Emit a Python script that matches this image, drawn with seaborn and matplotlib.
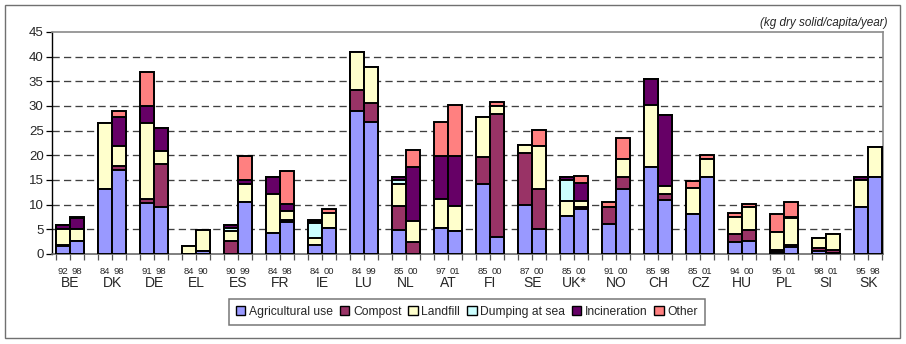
import numpy as np
import pandas as pd
import matplotlib
matplotlib.use("Agg")
import matplotlib.pyplot as plt
from matplotlib.patches import Patch, Rectangle
import seaborn as sns

sns.set_style("white")
plt.rcParams['font.family'] = ['Liberation Sans', 'DejaVu Sans']

# ---- data -------------------------------------------------------------
countries = ["BE", "DK", "DE", "EL", "ES", "FR", "IE", "LU", "NL", "AT",
             "FI", "SE", "UK*", "NO", "CH", "CZ", "HU", "PL", "SI", "SK"]
years = [("92", "98"), ("84", "98"), ("91", "98"), ("84", "90"), ("90", "99"),
         ("84", "98"), ("84", "00"), ("84", "99"), ("85", "00"), ("97", "01"),
         ("85", "00"), ("87", "00"), ("85", "00"), ("91", "00"), ("85", "98"),
         ("85", "01"), ("94", "00"), ("95", "01"), ("98", "01"), ("95", "98")]

series = ["Agricultural use", "Compost", "Landfill", "Dumping at sea",
          "Incineration", "Other"]
colors = ["#9999FF", "#993366", "#FFFFCC", "#CCFFFF", "#660066", "#FF8080"]

# values per bar (two bars per country, in the order above)
agricultural = [1.6, 2.6, 13.1, 17.0, 10.4, 9.5, 0.0, 0.7, 0.0, 10.5,
                4.3, 6.4, 1.8, 5.3, 28.9, 26.7, 4.9, 0.0, 5.3, 4.7,
                14.2, 3.5, 9.9, 5.1, 7.8, 9.2, 6.0, 13.1, 17.7, 11.0,
                8.1, 15.6, 2.4, 2.7, 0.5, 1.4, 0.7, 0.3, 9.6, 15.6]
compost = [0.3, 0.0, 0.0, 0.9, 0.8, 8.8, 0.0, 0.0, 2.7, 0.0,
           0.0, 0.5, 0.0, 0.0, 4.4, 4.0, 4.9, 2.4, 0.0, 0.0,
           5.4, 24.8, 10.5, 8.1, 0.0, 0.4, 3.5, 2.5, 0.0, 1.1,
           0.0, 0.0, 1.6, 2.2, 0.3, 0.4, 0.6, 0.5, 0.0, 0.0]
landfill = [3.1, 2.5, 13.4, 3.9, 15.3, 2.5, 1.7, 4.2, 2.0, 3.6,
            7.9, 1.9, 1.4, 3.0, 7.6, 7.2, 4.3, 4.2, 5.8, 5.1,
            8.1, 1.7, 1.7, 8.7, 3.0, 1.2, 0.0, 3.7, 12.5, 1.6,
            5.2, 3.6, 3.6, 4.6, 3.6, 5.4, 2.0, 3.2, 5.4, 6.0]
dumping = [0.0, 0.0, 0.0, 0.0, 0.0, 0.0, 0.0, 0.0, 0.6, 0.0,
           0.0, 0.0, 3.0, 0.0, 0.0, 0.0, 0.9, 0.0, 0.0, 0.0,
           0.0, 0.0, 0.0, 0.0, 4.3, 0.0, 0.0, 0.0, 0.0, 0.0,
           0.0, 0.0, 0.0, 0.0, 0.0, 0.0, 0.0, 0.0, 0.0, 0.0]
incineration = [0.9, 2.1, 0.0, 5.9, 3.5, 4.8, 0.0, 0.0, 0.6, 0.9,
                3.5, 1.3, 0.4, 0.0, 0.0, 0.0, 0.6, 11.1, 8.7, 10.0,
                0.0, 0.0, 0.0, 0.0, 0.5, 3.5, 0.0, 0.0, 5.3, 14.4,
                0.0, 0.0, 0.0, 0.0, 0.0, 0.4, 0.0, 0.0, 0.6, 0.0]
other = [0.0, 0.4, 0.0, 1.3, 6.9, 0.0, 0.0, 0.0, 0.0, 4.9,
         0.0, 6.7, 0.3, 0.8, 0.0, 0.0, 0.0, 3.3, 6.9, 10.4,
         0.0, 0.8, 0.0, 3.3, 0.0, 1.5, 1.1, 4.3, 0.0, 0.0,
         1.4, 0.8, 0.7, 0.6, 3.7, 3.0, 0.0, 0.0, 0.0, 0.0]

y_ticks = [0, 5, 10, 15, 20, 25, 30, 35, 40, 45]
unit_label = "(kg dry solid/capita/year)"

# ---- build table --------------------------------------------------------
n = len(countries)
pos = []
for g in range(n):
    pos += [3 * g, 3 * g + 1]
pos = np.array(pos, dtype=float)
year_labels = [y for pair in years for y in pair]

vals = np.array([agricultural, compost, landfill, dumping, incineration, other])
cum = np.cumsum(vals, axis=0)
df = pd.DataFrame({"pos": pos})
for i, s in enumerate(series):
    df[s] = cum[i]

# ---- figure -------------------------------------------------------------
fig = plt.figure(figsize=(9.06, 3.44), dpi=100)
ax = fig.add_axes([52 / 906, 1 - 254 / 344, (883 - 52) / 906, (254 - 32) / 344])

# stacked bars: draw cumulative totals from top layer downwards
for i in range(len(series) - 1, -1, -1):
    sns.barplot(data=df, x="pos", y=series[i], native_scale=True, width=1.0,
                color=colors[i], saturation=1, edgecolor="black",
                linewidth=1.4, errorbar=None, ax=ax, zorder=3)

ax.set_xlim(-0.79, 58.55)
ax.set_ylim(0, 45)
ax.set_xlabel("")
ax.set_ylabel("")

# grid
for yv in y_ticks[1:-1]:
    ax.axhline(yv, color="#404040", lw=0.95, ls=(0, (5.5, 3.2)), zorder=1)

# spines
for side in ["top", "right", "bottom"]:
    ax.spines[side].set_visible(True)
    ax.spines[side].set_color("#8a8a8a")
    ax.spines[side].set_linewidth(1.2)
ax.spines["left"].set_color("black")
ax.spines["left"].set_linewidth(1.0)
ax.spines["bottom"].set_color("#6a6a6a")

# y ticks
ax.set_yticks(y_ticks)
ax.set_yticklabels([str(v) for v in y_ticks], fontsize=9.5)
ax.tick_params(axis="y", direction="out", length=4, width=0.9, color="black",
               pad=2, left=True)

# x ticks: year labels under each bar, minor ticks at bar edges
ax.set_xticks(pos)
ax.set_xticklabels(year_labels, fontsize=6.8)
ax.tick_params(axis="x", which="major", length=0, pad=9)
edges = sorted(set(list(pos - 0.5) + list(pos + 0.5)))
ax.set_xticks(edges, minor=True)
ax.tick_params(axis="x", which="minor", direction="out", length=4, width=0.9,
               color="#555555", bottom=True)

# country labels
trans = matplotlib.transforms.blended_transform_factory(ax.transData, ax.transAxes)
for g, c in enumerate(countries):
    ax.text(3 * g + 0.5, -0.13, c, transform=trans, ha="center", va="center",
            fontsize=10)

# unit label
fig.text(887 / 906, 1 - 23 / 344, unit_label, ha="right", va="center",
         fontsize=8.5, style="italic")

# legend
handles = [Patch(facecolor=c, edgecolor="black", linewidth=1.0, label=s)
           for s, c in zip(series, colors)]
leg = fig.legend(handles=handles, loc="center", bbox_to_anchor=(467 / 906, 1 - 312 / 344),
                 ncol=6, fontsize=8.7, frameon=True, fancybox=False,
                 handlelength=0.8, handleheight=0.8, handletextpad=0.3,
                 columnspacing=0.55, borderpad=0.6, borderaxespad=0)
leg.get_frame().set_edgecolor("#555555")
leg.get_frame().set_linewidth(1.1)

# outer frame
fig.patches.append(Rectangle((5 / 906, 6 / 344), 895 / 906, 333 / 344,
                             transform=fig.transFigure, fill=False,
                             edgecolor="#707070", linewidth=1.0))

fig.savefig("out.png", dpi=100)
